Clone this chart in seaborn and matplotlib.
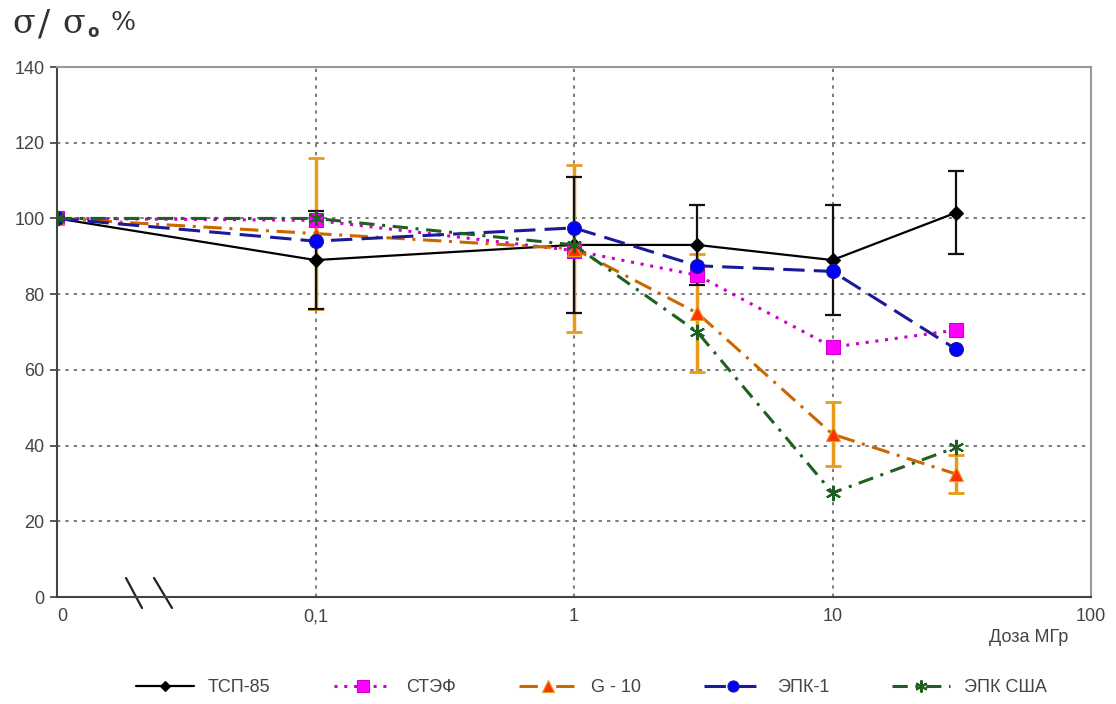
import numpy as np
import pandas as pd
import matplotlib
matplotlib.use("Agg")
import matplotlib.pyplot as plt
import seaborn as sns

# ---- data ----
doses = [0.01, 0.1, 1, 3, 10, 30]          # 0.01 plotted as "0"
tsp85 = [100, 89, 93, 93, 89, 101.5]
stef = [100, 99.5, 91.5, 85, 66, 70.5]
g10 = [100, 96, 92, 75, 43, 32.5]
epk1 = [100, 94, 97.5, 87.5, 86, 65.5]
epk_usa = [100, 100, 93, 70, 27.5, 39.5]

tsp85_err = [0, 13, 18, 10.5, 14.5, 11]
g10_err = [0, 20, 22, 15.5, 8.5, 5]

series_names = ["ТСП-85", "СТЭФ", "G - 10", "ЭПК-1", "ЭПК США"]
series_vals = [tsp85, stef, g10, epk1, epk_usa]

x_ticks = [0.01, 0.1, 1, 10, 100]
x_ticklabels = ["0", "0,1", "1", "10", "100"]
y_ticks = [0, 20, 40, 60, 80, 100, 120, 140]

rows = []
for name, vals in zip(series_names, series_vals):
    for d, v in zip(doses, vals):
        rows.append({"dose": d, "value": v, "series": name})
df = pd.DataFrame(rows)

sns.set_theme(style="white")
plt.rcParams["font.family"] = ["Liberation Sans", "DejaVu Sans"]

fig = plt.figure(figsize=(11.16, 7.04), dpi=100)
ax = fig.add_axes([57 / 1116, 1 - 597 / 704, (1091 - 57) / 1116, (597 - 67) / 704])

line_colors = {"ТСП-85": "#000000", "СТЭФ": "#cc00cc", "G - 10": "#cc6600",
               "ЭПК-1": "#1a1a9a", "ЭПК США": "#1f5f1f"}
face_colors = {"ТСП-85": "#000000", "СТЭФ": "#ff00ff", "G - 10": "#ff3300",
               "ЭПК-1": "#0000ff", "ЭПК США": "#1f5f1f"}
markers = {"ТСП-85": "D", "СТЭФ": "s", "G - 10": "^", "ЭПК-1": "o", "ЭПК США": (6, 2, 0)}
msizes = {"ТСП-85": 7, "СТЭФ": 10, "G - 10": 10, "ЭПК-1": 10, "ЭПК США": 11}
dashes = {"ТСП-85": (None, None), "СТЭФ": (1, 2.2), "G - 10": (6, 2.5, 1, 2.5),
          "ЭПК-1": (7, 3), "ЭПК США": (5, 2.5, 1, 2.5)}

# error bars (drawn first, below lines)
ax.errorbar(doses, g10, yerr=g10_err, fmt="none", ecolor="#e89a1a", elinewidth=2.5,
            capsize=6, capthick=2, zorder=2)
ax.errorbar(doses, tsp85, yerr=tsp85_err, fmt="none", ecolor="#111111", elinewidth=1.6,
            capsize=6, capthick=1.6, zorder=3)

for name in series_names:
    sub = df[df["series"] == name]
    sns.lineplot(data=sub, x="dose", y="value", ax=ax, color=line_colors[name],
                 linewidth=2.2 if name != "ТСП-85" else 1.6,
                 marker=markers[name], markersize=msizes[name],
                 markerfacecolor=face_colors[name],
                 markeredgecolor=line_colors[name] if name != "G - 10" else "#e89a1a",
                 markeredgewidth=1.5 if name == "ЭПК США" else 0.8,
                 label=name, zorder=4, legend=False)
    ln = ax.lines[-1]
    if dashes[name][0] is not None:
        ln.set_dashes(dashes[name])

ax.set_xscale("log")
ax.set_xlim(0.01, 100)
ax.set_ylim(0, 140)
ax.set_xticks(x_ticks)
ax.set_xticklabels(x_ticklabels)
ax.minorticks_off()
ax.set_yticks(y_ticks)
ax.set_xlabel("")
ax.set_ylabel("")
ax.tick_params(axis="both", labelsize=13, colors="#444444", length=0, pad=8)
ax.tick_params(axis="y", length=5, direction="out", left=True, color="#444444", pad=4)
ax.get_xticklabels()[0].set_ha("left")
ax.grid(True, which="major", color="#666666", linestyle=(0, (2, 3)), linewidth=1.2)
for s in ["top", "right"]:
    ax.spines[s].set_color("#999999")
    ax.spines[s].set_linewidth(1.5)
for s in ["left", "bottom"]:
    ax.spines[s].set_color("#444444")
    ax.spines[s].set_linewidth(1.5)

# axis-break marks
ax.plot([126 / 1116, 142 / 1116], [1 - 578 / 704, 1 - 608 / 704],
        transform=fig.transFigure, color="#222222", lw=1.6, clip_on=False)
ax.plot([154 / 1116, 172 / 1116], [1 - 578 / 704, 1 - 608 / 704],
        transform=fig.transFigure, color="#222222", lw=1.6, clip_on=False)

# y title
title_kw = dict(family="DejaVu Serif", va="center", ha="left", color="#333333")
fig.text(12 / 1116, 1 - 24 / 704, "σ", fontsize=24, **title_kw)
fig.text(38 / 1116, 1 - 24 / 704, "/", fontsize=26, **title_kw)
fig.text(62 / 1116, 1 - 24 / 704, "σ", fontsize=24, **title_kw)
fig.text(87 / 1116, 1 - 32 / 704, "o", fontsize=12, family="DejaVu Sans",
         weight="bold", va="center", ha="left", color="#333333")
fig.text(110 / 1116, 1 - 23 / 704, "%", fontsize=19, **title_kw)
fig.text(1068 / 1116, 1 - 637 / 704, "Доза МГр", fontsize=13, ha="right", va="center",
         color="#444444")

handles = [ln for ln in ax.lines if ln.get_label() in series_names]
leg = fig.legend(handles=handles, labels=series_names, loc="center",
                 bbox_to_anchor=(0.53, 1 - 688 / 704), ncol=5, frameon=False,
                 fontsize=13, handlelength=3.2, columnspacing=3.5, markerscale=0.8)
for t in leg.get_texts():
    t.set_color("#444444")

fig.savefig("out.png", dpi=100)
